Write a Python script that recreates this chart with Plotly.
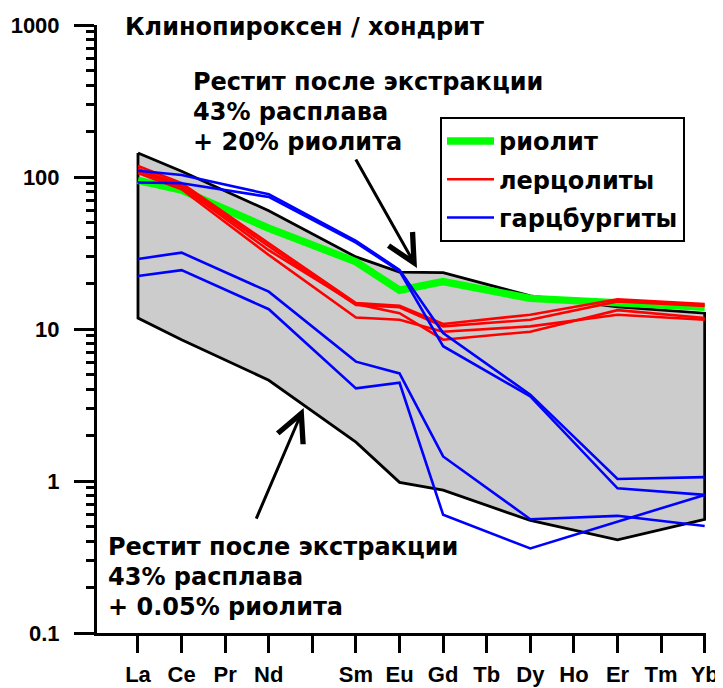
import plotly.graph_objects as go

# ---------------- data ----------------
elements = ["La", "Ce", "Pr", "Nd", "Pm", "Sm", "Eu", "Gd", "Tb", "Dy", "Ho", "Er", "Tm", "Yb"]
tick_labels = ["La", "Ce", "Pr", "Nd", "", "Sm", "Eu", "Gd", "Tb", "Dy", "Ho", "Er", "Tm", "Yb"]
data_elements = ["La", "Ce", "Nd", "Sm", "Eu", "Gd", "Dy", "Er", "Yb"]

restite_upper = [144, 109, 60, 29.8, 23.7, 23.5, 16.5, 14.0, 12.7]   # 43% melt + 20% rhyolite
restite_lower = [11.8, 8.5, 4.6, 1.8, 0.98, 0.87, 0.55, 0.41, 0.56]  # 43% melt + 0.05% rhyolite

rhyolite = [95, 82, 46, 27.7, 18, 20.5, 15.9, 15.0, 13.9]

lherz_1 = [118, 91, 36.6, 14.8, 14.2, 10.8, 12.4, 15.7, 14.6]
lherz_2 = [113, 88, 35, 14.4, 13.9, 10.4, 11.5, 15.2, 14.2]
lherz_3 = [110, 86, 33, 14.6, 12.7, 8.5, 9.6, 13.3, 11.8]
lherz_4 = [106, 83, 30.7, 11.9, 11.5, 9.6, 10.4, 12.4, 11.5]

harz_1 = [110, 103, 77, 38, 24.5, 9.4, 3.7, 1.03, 1.06]
harz_2 = [92, 91, 74, 37, 24, 7.7, 3.6, 0.895, 0.81]
harz_3 = [28.9, 31.8, 17.6, 6.1, 5.1, 1.45, 0.56, 0.59, 0.506]
harz_4 = [22.3, 24.4, 13.5, 4.07, 4.43, 0.60, 0.36, 0.54, 0.81]

title_text = "Клинопироксен / хондрит"
upper_label = ["Рестит после экстракции", "43% расплава", "+ 20% риолита"]
lower_label = ["Рестит после экстракции", "43% расплава", "+ 0.05% риолита"]
legend_names = ["риолит", "лерцолиты", "гарцбургиты"]

y_tick_vals = [0.1, 1, 10, 100, 1000]
y_tick_text = ["0.1", "1", "10", "100", "1000"]

# ---------------- figure ----------------
FONT = "Liberation Sans, Arial, Helvetica, sans-serif"
WIDE = "DejaVu Sans, Verdana, sans-serif"
OFF = 8                      # page body margin of the browser
W, H = 723 - OFF, 688 - OFF
L, R, T, B = 97 - OFF, 17, 25 - OFF, 55
pw, ph = W - L - R, H - T - B

pos = {e: i for i, e in enumerate(elements)}
xs = [pos[e] for e in data_elements]

fig = go.Figure()

# restite field (polygon)
poly_x = xs + xs[::-1] + [xs[0]]
poly_y = restite_upper + restite_lower[::-1] + [restite_upper[0]]
fig.add_trace(go.Scatter(x=poly_x, y=poly_y, mode="lines", fill="toself",
                         fillcolor="#cccccc", line=dict(color="black", width=2.8),
                         showlegend=False, hoverinfo="skip"))

# rhyolite
fig.add_trace(go.Scatter(x=xs, y=rhyolite, mode="lines", name=legend_names[0],
                         line=dict(color="#00ff00", width=7.5), legendgroup="g1",
                         showlegend=True))

for i, s in enumerate([lherz_1, lherz_2, lherz_3, lherz_4]):
    fig.add_trace(go.Scatter(x=xs, y=s, mode="lines", name=legend_names[1],
                             line=dict(color="#ff0000", width=2.6), legendgroup="g2",
                             showlegend=(i == 0)))

for i, s in enumerate([harz_1, harz_2, harz_3, harz_4]):
    fig.add_trace(go.Scatter(x=xs, y=s, mode="lines", name=legend_names[2],
                             line=dict(color="#0000ff", width=2.6), legendgroup="g3",
                             showlegend=(i == 0)))


def px_x(p):
    # screen pixel -> paper fraction
    return (p - OFF - L) / pw


def px_y(p):
    return (H - B - (p - OFF)) / ph


annotations = []
annotations.append(dict(text=title_text, xref="paper", yref="paper", x=px_x(123), y=px_y(27),
                        xanchor="left", yanchor="middle", showarrow=False,
                        font=dict(family=WIDE, size=24, color="black", weight="bold")))
for txt, yy in zip(upper_label, [82, 112, 142]):
    annotations.append(dict(text=txt, xref="paper", yref="paper", x=px_x(191), y=px_y(yy),
                            xanchor="left", yanchor="middle", showarrow=False,
                            font=dict(family=WIDE, size=24, color="black", weight="bold")))
for txt, yy in zip(lower_label, [547, 577, 607]):
    annotations.append(dict(text=txt, xref="paper", yref="paper", x=px_x(106), y=px_y(yy),
                            xanchor="left", yanchor="middle", showarrow=False,
                            font=dict(family=WIDE, size=24, color="black", weight="bold")))

# arrows
annotations.append(dict(x=6.4, y=1.401, xref="x", yref="y", ax=-62, ay=-110,
                        text="", showarrow=True, arrowhead=5, arrowsize=1.8,
                        arrowwidth=3, arrowcolor="black", standoff=0))
annotations.append(dict(x=3.8, y=0.48, xref="x", yref="y", ax=-48, ay=112,
                        text="", showarrow=True, arrowhead=5, arrowsize=1.8,
                        arrowwidth=3, arrowcolor="black", standoff=0))

minor_vals = [k * 10 ** d for d in range(-1, 3) for k in range(2, 10)]

fig.update_layout(
    width=W, height=H,
    margin=dict(l=L, r=R, t=T, b=B, autoexpand=False),
    plot_bgcolor="white", paper_bgcolor="white",
    font=dict(family=FONT, color="black"),
    annotations=annotations,
    showlegend=True,
    legend=dict(x=px_x(440), y=px_y(117), xanchor="left", yanchor="top",
                bgcolor="white", bordercolor="black", borderwidth=2,
                font=dict(family=WIDE, size=24, color="black", weight="bold"),
                tracegroupgap=4, traceorder="grouped",
                itemwidth=47, entrywidth=249, entrywidthmode="pixels"),
    xaxis=dict(range=[-0.94, 13.03], tickmode="array", tickvals=list(range(len(elements))),
               ticktext=tick_labels, ticks="outside", ticklen=17, tickwidth=2.5,
               tickcolor="black", showline=True, linewidth=3, linecolor="black",
               showgrid=False, zeroline=False, ticklabelstandoff=3,
               tickfont=dict(family=FONT, size=22, color="black", weight="bold")),
    yaxis=dict(type="log", range=[-1, 3], tickmode="array", tickvals=y_tick_vals,
               ticktext=y_tick_text, ticks="outside", ticklen=20, tickwidth=3,
               tickcolor="black", showline=True, linewidth=3, linecolor="black",
               showgrid=False, zeroline=False, ticklabelstandoff=10,
               tickfont=dict(family=FONT, size=22, color="black", weight="bold"),
               minor=dict(ticks="outside", ticklen=8, tickwidth=2.5, tickcolor="black",
                          tickmode="array", tickvals=minor_vals, showgrid=False)),
)

fig.write_html("out.html")
